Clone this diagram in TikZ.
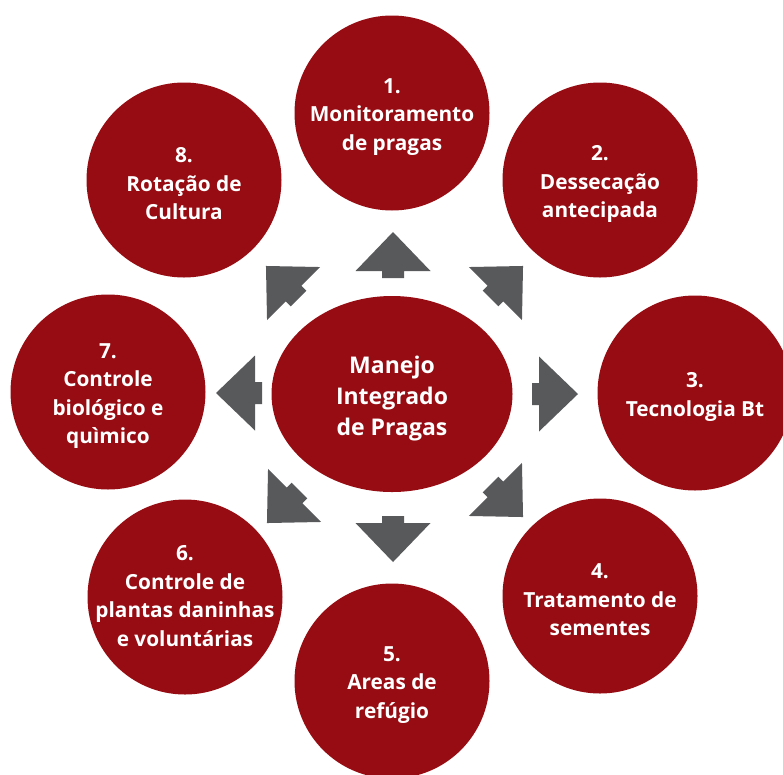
\documentclass[tikz,border=0pt]{standalone}
\usepackage{fontspec}
\setmainfont{Open Sans}
\usepackage{tikz}
\usetikzlibrary{positioning,shapes.geometric}
\definecolor{Crimson}{HTML}{960C12}
\definecolor{Ash}{HTML}{58595B}

\begin{document}
\begin{tikzpicture}[x=1pt, y=-1pt]
\tikzset{step circ/.style={circle, fill=Crimson, minimum size=195pt, inner sep=0pt}, hub/.style={ellipse, fill=Crimson, minimum width=241pt, minimum height=196pt, inner sep=0pt}, lbl/.style={text=white, align=center, font=\bfseries\fontsize{20.8}{28.5}\selectfont, yshift=-4pt}, blk/.pic={\fill[Ash] (0,-11) -- (7,-11) -- (7,-37.5) -- (46,0) -- (7,37.5) -- (7,11) -- (0,11) -- cycle;}}
\useasboundingbox (0,0) rectangle (783,774);
\clip (0,0) rectangle (783,774);
\node[hub] (mip) at (392,394) {};
\node[text=white, align=center, font=\bfseries\fontsize{23}{31}\selectfont] (mipt) at (392,399) {Manejo\\Integrado\\de Pragas};
\node[step circ] (s1) at (392,113) {};
\node[step circ] (s2) at (600,180) {};
\node[step circ] (s3) at (695,393) {};
\node[step circ] (s4) at (600,596) {};
\node[step circ] (s5) at (392,681) {};
\node[step circ] (s6) at (185,597) {};
\node[step circ] (s7) at (108,392) {};
\node[step circ] (s8) at (184,180) {};
\node[lbl] (t1) at (s1) {1.\\Monitoramento\\de pragas};
\node[lbl] (t2) at (s2) {2.\\Dessecação\\antecipada};
\node[lbl] (t3) at (s3) {3.\\Tecnologia Bt};
\node[lbl] (t4) at (s4) {4.\\Tratamento de\\sementes};
\node[lbl] (t5) at (s5) {5.\\Areas de\\refúgio};
\node[lbl, yshift=5pt] (t6) at (s6) {6.\\Controle de\\plantas daninhas\\e voluntárias};
\node[lbl] (t7) at (s7) {7.\\Controle\\biológico e\\quìmico};
\node[lbl] (t8) at (s8) {8.\\Rotação de\\Cultura};
% block arrows
\pic[rotate=90] (a1) at (393,278) {blk};
\pic[rotate=45] (a2) at (490.5,298.5) {blk};
\pic[rotate=0] (a3) at (532,394) {blk};
\pic[rotate=-45] (a4) at (490.5,484.5) {blk};
\pic[rotate=-90] (a5) at (393,516) {blk};
\pic[rotate=-135] (a6) at (299.5,490.5) {blk};
\pic[rotate=180] (a7) at (262,393) {blk};
\pic[rotate=135] (a8) at (298.5,298.5) {blk};
\end{tikzpicture}
\end{document}
